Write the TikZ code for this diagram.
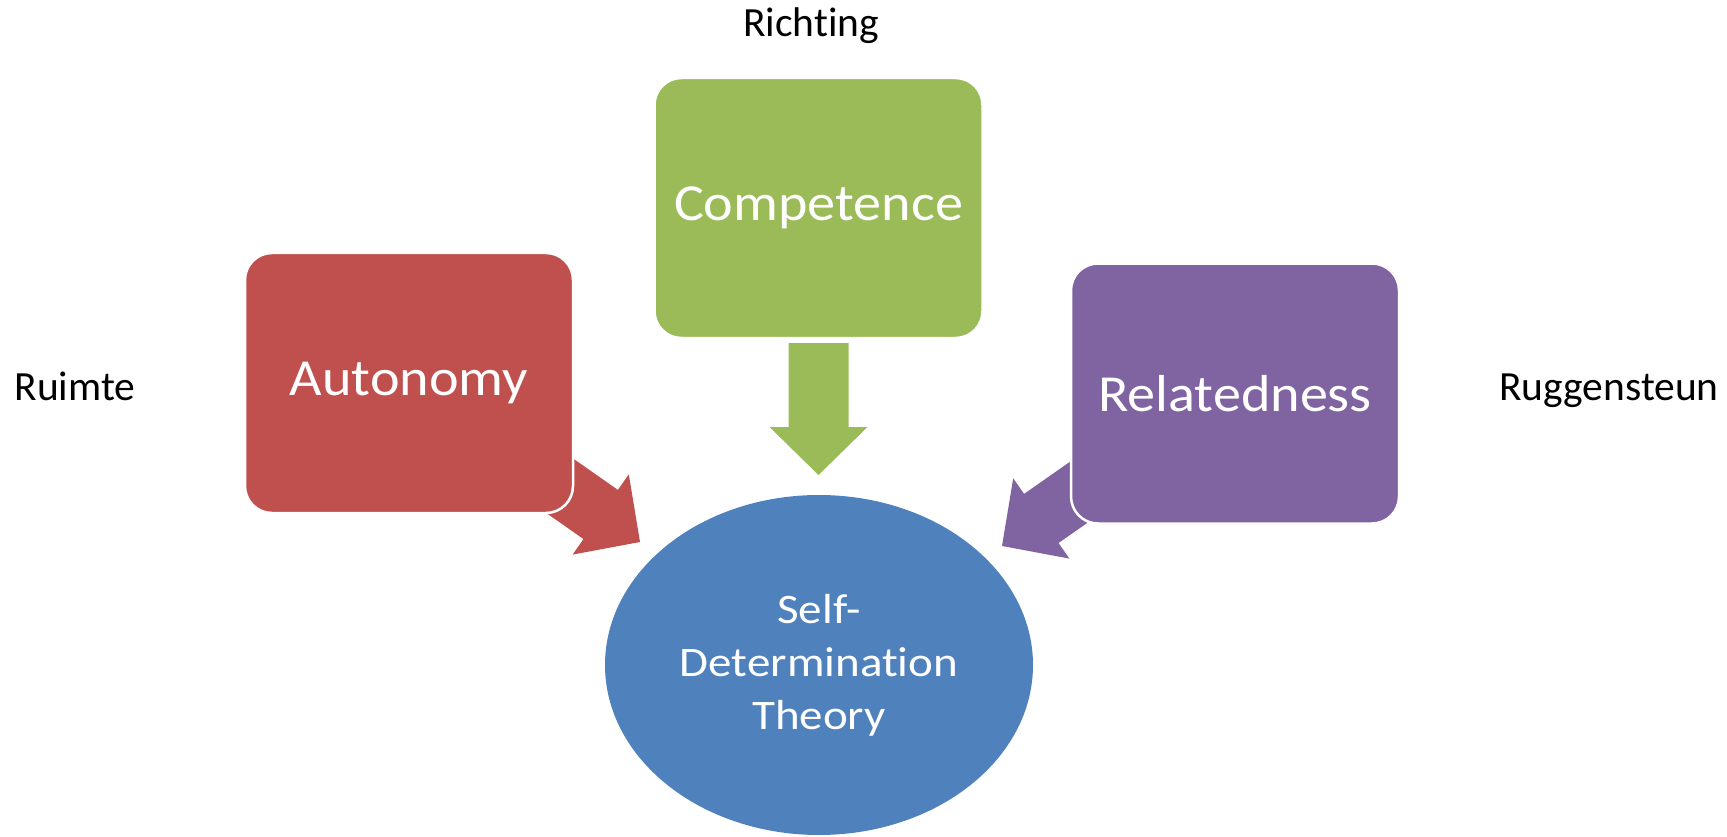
\documentclass[tikz,border=0pt]{standalone}
\usepackage{fontspec}
\setmainfont{Carlito}[Ligatures=NoCommon]
\newfontfamily\boxfont{Carlito}[FakeStretch=1.08,Ligatures=NoCommon]
\newfontfamily\ovalfont{Carlito}[FakeStretch=1.12,Ligatures=NoCommon]
\usetikzlibrary{calc,shapes.geometric}

\definecolor{sdtred}{HTML}{C0504D}
\definecolor{sdtgreen}{HTML}{9BBB59}
\definecolor{sdtpurple}{HTML}{8064A2}
\definecolor{sdtblue}{HTML}{4F81BD}

% block arrow: colour, tail coordinate, tip coordinate
\newcommand{\blockarrow}[3]{%
  \fill[#1]
    ($(#2)!30pt!-90:(#3)$)
    -- ($(#3)!48pt!(#2)!30pt!90:(#2)$)
    -- ($(#3)!48pt!(#2)!49pt!90:(#2)$)
    -- (#3)
    -- ($(#3)!48pt!(#2)!49pt!-90:(#2)$)
    -- ($(#3)!48pt!(#2)!30pt!-90:(#2)$)
    -- ($(#2)!30pt!90:(#3)$)
    -- cycle;}

\tikzset{
  need/.style={rectangle, rounded corners=27pt, draw=white, line width=2.5pt,
    fill=#1, text=white, minimum width=328pt, minimum height=260pt,
    inner sep=0pt, font=\boxfont\fontsize{52}{60}\selectfont},
  theory/.style={ellipse, fill=sdtblue, text=white, minimum width=428pt,
    minimum height=340pt, inner sep=0pt, align=center,
    font=\ovalfont\fontsize{42}{53}\selectfont},
  sidelabel/.style={anchor=base, text=black, inner sep=0pt,
    font=\fontsize{41.5}{48}\selectfont},
}

\begin{document}
\begin{tikzpicture}[x=1pt,y=-1pt]
  \useasboundingbox (0,0) rectangle (1727,837);

  % arrows run underneath the boxes
  \coordinate (autotail) at (533.5,467.4);
  \coordinate (autotip)  at (640,542);
  \coordinate (comptail) at (818.5,343);
  \coordinate (comptip)  at (818.5,475);
  \coordinate (reltail)  at (1108.5,471.4);
  \coordinate (reltip)   at (1002,546);

  \blockarrow{sdtred}{autotail}{autotip}
  \blockarrow{sdtgreen}{comptail}{comptip}
  \blockarrow{sdtpurple}{reltail}{reltip}

  % the three needs
  \node[need=sdtred]    (autonomy)    at (409,383)   {Autonomy};
  \node[need=sdtgreen]  (competence)  at (818.5,208) {Competence};
  \node[need=sdtpurple] (relatedness) at (1235,393.5){Relatedness};

  % central theory
  \node[theory] (sdt) at (819,665)
    {\raisebox{-4pt}{\parbox{300pt}{\centering Self-\\Determination\\Theory}}};

  % Dutch side labels
  \node[sidelabel] (richting)    at (811,37)   {Richting};
  \node[sidelabel] (ruimte)      at (75,400)   {Ruimte};
  \node[sidelabel] (ruggensteun) at (1609,400) {Ruggensteun};
\end{tikzpicture}
\end{document}
